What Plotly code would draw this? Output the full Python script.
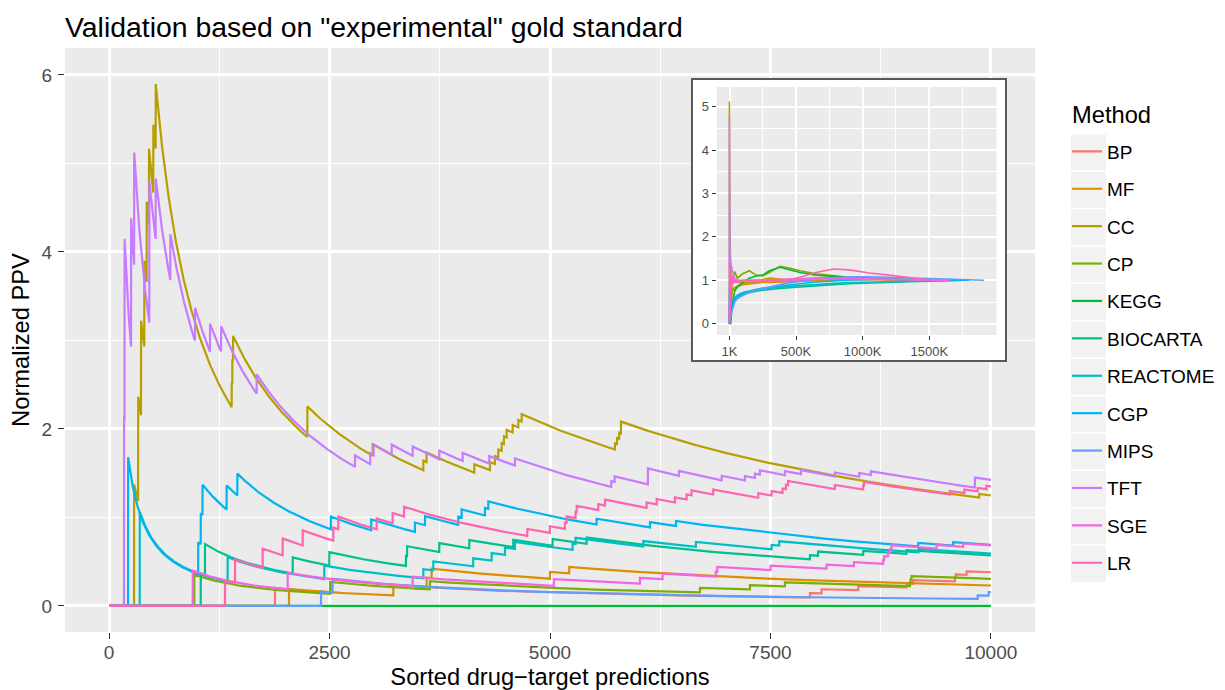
import numpy as np
import plotly.graph_objects as go

# ---------------- data ----------------
methods = ["BP", "MF", "CC", "CP", "KEGG", "BIOCARTA", "REACTOME", "CGP", "MIPS", "TFT", "SGE", "LR"]
colors = ["#F8766D", "#DE8C00", "#B79F00", "#7CAE00", "#00BA38", "#00C08B",
          "#00BFC4", "#00B4F0", "#619CFF", "#C77CFF", "#F564E3", "#FF64B0"]

# ranks per true hit over each method's full list (1 / overall precision)
ranks_per_hit = [380, 384, 390, 340, 380, 380, 370, 363, 389, 365, 380, 375]

# ranks (within the top 10000) of the gold-standard hits; a repeated rank = tied hits
hits_BP = [1882, 2532, 7948, 8080, 8496, 9044, 9119, 9592, 9600, 9725]
hits_MF = [2041, 3224, 3602, 3658, 5000, 5219]
hits_CC = [284, 330, 363, 400, 427, 453, 502, 529, 1391, 1398, 1406, 2249, 2249, 2990,
           3564, 3600, 4142, 4320, 4376, 4414, 4452, 4478, 4509, 4577, 4641, 4679,
           5737, 5760, 5785, 5805, 5805, 9868]
hits_CP = [967, 2506, 3639, 6701, 7268, 7664, 9082, 9090, 9100]
hits_KEGG = []
hits_BIOCARTA = [1040, 1088, 2083, 2498, 3367, 3380, 3745, 4085, 4584, 5030, 5416,
                 7948, 8040, 8552, 9044]
hits_REACTOME = [348, 1345, 2441, 3564, 3677, 4130, 4339, 4490, 4603, 5257, 5290,
                 6058, 6655, 7513, 7600, 9180]
hits_CGP = [216, 1011, 1040, 1060, 1333, 1455, 2515, 2973, 3469, 3583, 3960, 3998,
            4263, 4301, 5529, 6134, 6429, 9176, 9573]
hits_MIPS = [2404, 2532, 9850, 9975]
hits_TFT = [170, 176, 250, 285, 457, 457, 529, 695, 975, 1145, 1270, 1674, 2789, 2962,
            3000, 3205, 3443, 3745, 4010, 4312, 4603, 5695, 5733, 6111, 6111, 6111,
            6462, 6947, 7211, 7324, 7381, 7664, 7846, 8231, 8507, 8639, 9819, 9819, 9819]
hits_SGE = [949, 2026, 3443, 5045, 6020, 6277, 6880, 6897, 7502, 8137, 8447, 8779,
            8790, 8836, 8860, 8874, 9384, 9686]
hits_LR = [1315, 1429, 1742, 1969, 2196, 2543, 2600, 3035, 3216, 3345, 4743, 5000,
           5170, 5190, 5290, 5303, 5548, 5624, 6096, 6210, 6417, 6550, 6606, 6851,
           7362, 7513, 7638, 7676, 7700, 8231, 8552, 8560, 9535, 9700, 9850, 9950]

top_n = 10000
x_ticks = [0, 2500, 5000, 7500, 10000]
x_minor = [1250, 3750, 6250, 8750]
y_ticks = [0, 2, 4, 6]
y_minor = [1, 3, 5]

# inset: full ranked lists
inset_early_ranks = [1, 457, 1000, 2500, 5000, 10000]
inset_grid_k = [20, 40, 60, 100, 150, 200, 250, 300, 380, 450, 530, 650, 780, 900,
                1050, 1200, 1350, 1500]
inset_BP = [0.80, 0.84, 0.87, 0.92, 0.94, 0.96, 0.97, 0.97, 0.98, 0.98, 0.99, 1.00, 1.01, 1.02, 1.02, 1.01, 1.01, 1.00]
inset_MF = [0.75, 0.80, 0.85, 0.90, 0.92, 0.94, 0.95, 0.95, 0.96, 0.97, 0.99, 1.00, 1.02, 1.02, 1.02, 1.01, 1.01, 1.00]
inset_CC = [1.05, 0.98, 0.95, 0.95, 0.96, 0.97, 1.02, 1.05, 1.03, 1.02, 1.03, 1.05, 1.05, 1.04, 1.03, 1.02, 1.01, 1.00]
inset_CP = [0.90, 1.20, 1.05, 1.15, 1.22, 1.12, 1.10, 1.18, 1.32, 1.28, 1.22, 1.15, 1.10, 1.07, 1.05, 1.03, 1.02, 1.01]
inset_KEGG = [0.40, 0.75, 0.85, 0.95, 1.05, 1.10, 1.12, 1.22, 1.30, 1.25, 1.18, 1.12, 1.08, 1.06, 1.04, 1.02, 1.01, 1.00]
inset_BIOCARTA = [0.45, 0.55, 0.62, 0.68, 0.72, 0.75, 0.77, 0.79, 0.81, 0.83, 0.85, 0.88, 0.90, 0.92, 0.94, 0.96, 0.97, 0.98]
inset_REACTOME = [0.50, 0.60, 0.66, 0.72, 0.76, 0.79, 0.80, 0.82, 0.84, 0.86, 0.88, 0.91, 0.93, 0.95, 0.96, 0.97, 0.98, 0.99]
inset_CGP = [0.40, 0.55, 0.62, 0.70, 0.75, 0.79, 0.82, 0.84, 0.87, 0.89, 0.92, 0.96, 0.99, 1.01, 1.02, 1.03, 1.02, 1.01]
inset_MIPS = [0.30, 0.50, 0.58, 0.65, 0.72, 0.77, 0.81, 0.85, 0.90, 0.94, 0.98, 1.03, 1.06, 1.08, 1.08, 1.07, 1.06, 1.04]
inset_TFT = [1.25, 1.05, 1.00, 0.98, 0.99, 1.00, 1.00, 1.00, 1.00, 1.01, 1.02, 1.03, 1.04, 1.04, 1.03, 1.02, 1.01, 1.00]
inset_SGE = [1.10, 0.95, 0.97, 1.00, 1.00, 1.00, 1.01, 1.01, 1.02, 1.03, 1.04, 1.05, 1.05, 1.04, 1.03, 1.02, 1.01, 1.00]
inset_LR = [0.90, 1.00, 1.00, 1.00, 1.00, 1.00, 1.00, 1.00, 1.00, 1.02, 1.07, 1.18, 1.26, 1.24, 1.17, 1.12, 1.07, 1.02]
inset_end_k = [1650, 1650, 1650, 1650, 1650, 1760, 1760, 1800, 1910, 1650, 1650, 1515]
inset_end_value = 1.0
inset_x_ticks = [1000, 500000, 1000000, 1500000]
inset_x_labels = ["1K", "500K", "1000K", "1500K"]
inset_x_minor = [250500, 750000, 1250000, 1750000]
inset_y_ticks = [0, 1, 2, 3, 4, 5]
inset_y_minor = [0.5, 1.5, 2.5, 3.5, 4.5]

all_hits = [hits_BP, hits_MF, hits_CC, hits_CP, hits_KEGG, hits_BIOCARTA,
            hits_REACTOME, hits_CGP, hits_MIPS, hits_TFT, hits_SGE, hits_LR]
all_inset = [inset_BP, inset_MF, inset_CC, inset_CP, inset_KEGG, inset_BIOCARTA,
             inset_REACTOME, inset_CGP, inset_MIPS, inset_TFT, inset_SGE, inset_LR]


def normalized_ppv(hit_ranks, rph, ranks):
    h = np.sort(np.asarray(hit_ranks, dtype=float))
    ranks = np.asarray(ranks, dtype=float)
    cum = np.searchsorted(h, ranks, side="right")
    return cum * rph / ranks


# ---------------- geometry (page pixels; the page body has an 8px margin) ----------------
OFF = 8
W, H = 1225, 690 - OFF
PL, PR, PT, PB = 65, 1035, 48, 632          # plot panel in page pixels


def px(xp):
    return (xp - PL) / (PR - PL)


def py(yp):
    return (PB - yp) / (PB - PT)


FONT = "Liberation Sans, Arial, Helvetica, sans-serif"
GRID_BG = "#EBEBEB"

fig = go.Figure()

# main curves
for i, m in enumerate(methods):
    h = np.asarray(all_hits[i], dtype=int)
    ev = set(range(1, top_n + 1, 4)) | {top_n}
    for r in h:
        ev |= {int(r) - 1, int(r)}
    ev = np.array(sorted(r for r in ev if 1 <= r <= top_n))
    yv = normalized_ppv(h, ranks_per_hit[i], ev)
    fig.add_trace(go.Scatter(
        x=ev, y=yv, mode="lines", name=m, legendgroup=m,
        line=dict(color=colors[i], width=2.2),
        xaxis="x", yaxis="y"))

# blank subplot forming the white inset frame
fig.add_trace(go.Scatter(x=[], y=[], xaxis="x2", yaxis="y2", showlegend=False,
                         hoverinfo="skip"))

# inset curves
for i, m in enumerate(methods):
    early_y = normalized_ppv(all_hits[i], ranks_per_hit[i], inset_early_ranks)
    xs = list(inset_early_ranks) + [k * 1000 for k in inset_grid_k] + [inset_end_k[i] * 1000]
    ys = list(early_y) + list(all_inset[i]) + [inset_end_value]
    fig.add_trace(go.Scatter(
        x=xs, y=ys, mode="lines", name=m, legendgroup=m, showlegend=False,
        line=dict(color=colors[i], width=1.6),
        xaxis="x3", yaxis="y3"))

# panel backgrounds
shapes = [
    dict(type="rect", xref="paper", yref="paper", x0=0, x1=1, y0=0, y1=1,
         fillcolor=GRID_BG, line=dict(width=0), layer="below"),
    dict(type="rect", xref="x3", yref="y3", x0=-95000, x1=2005500, y0=-0.26, y1=5.46,
         fillcolor=GRID_BG, line=dict(width=0), layer="below"),
]
# legend key boxes
key_top0 = 134.5
key_step = 37.4
for i in range(len(methods)):
    t = key_top0 + i * key_step
    shapes.append(dict(type="rect", xref="paper", yref="paper",
                       x0=px(1071), x1=px(1106), y0=py(t + 35.8), y1=py(t),
                       fillcolor="#F2F2F2", line=dict(width=0), layer="below"))

tick_font = dict(family=FONT, size=19, color="#4D4D4D")
title_font = dict(family=FONT, size=23.7, color="black")

fig.update_layout(
    width=W, height=H,
    paper_bgcolor="white", plot_bgcolor="white",
    margin=dict(l=PL - OFF, r=W - (PR - OFF), t=PT - OFF, b=H - (PB - OFF), autoexpand=False),
    font=dict(family=FONT, color="black"),
    title=dict(text='Validation based on "experimental" gold standard',
               font=dict(family=FONT, size=28.4, color="black"),
               x=0, xref="paper", xanchor="left",
               y=1 - (27 - OFF) / H, yref="container", yanchor="middle"),
    showlegend=True,
    legend=dict(x=px(1067), y=py(132.5), xanchor="left", yanchor="top",
                xref="paper", yref="paper",
                bgcolor="rgba(0,0,0,0)", borderwidth=0,
                font=dict(family=FONT, size=19, color="black"),
                tracegroupgap=9.7, itemwidth=30, traceorder="grouped"),
    annotations=[dict(text="Method", xref="paper", yref="paper", x=px(1070), y=py(115),
                      xanchor="left", yanchor="middle", showarrow=False,
                      font=dict(family=FONT, size=23.7, color="black"))],
    xaxis=dict(domain=[0, 1], range=[-500, 10500], anchor="y",
               tickmode="array", tickvals=x_ticks, ticktext=[str(v) for v in x_ticks],
               showgrid=True, gridcolor="white", gridwidth=2.6, zeroline=False,
               minor=dict(tickmode="array", tickvals=x_minor, showgrid=True,
                          gridcolor="white", gridwidth=1.3, ticks=""),
               ticks="outside", ticklen=6, tickwidth=1.3, tickcolor="#333333",
               tickfont=tick_font, showline=False, ticklabelstandoff=-3,
               title=dict(text="Sorted drug\u2212target predictions", font=title_font, standoff=11),
               automargin=False),
    yaxis=dict(domain=[0, 1], range=[-0.295, 6.305], anchor="x",
               tickmode="array", tickvals=y_ticks, ticktext=[str(v) for v in y_ticks],
               showgrid=True, gridcolor="white", gridwidth=2.6, zeroline=False,
               minor=dict(tickmode="array", tickvals=y_minor, showgrid=True,
                          gridcolor="white", gridwidth=1.3, ticks=""),
               ticks="outside", ticklen=6, tickwidth=1.3, tickcolor="#333333",
               tickfont=tick_font, showline=False, ticklabelstandoff=2,
               title=dict(text="Normalized PPV", font=title_font, standoff=8),
               automargin=False),
    xaxis2=dict(domain=[px(693), px(1005)], range=[0, 1], anchor="y2",
                showgrid=False, zeroline=False, showticklabels=False, ticks="",
                showline=True, mirror=True, linecolor="#595959", linewidth=1.6,
                fixedrange=True),
    yaxis2=dict(domain=[py(360), py(80)], range=[0, 1], anchor="x2",
                showgrid=False, zeroline=False, showticklabels=False, ticks="",
                showline=True, mirror=True, linecolor="#595959", linewidth=1.6,
                fixedrange=True),
    xaxis3=dict(domain=[px(716.7), px(996.7)], range=[-95000, 2005500], anchor="y3",
                tickmode="array", tickvals=inset_x_ticks, ticktext=inset_x_labels,
                showgrid=True, gridcolor="white", gridwidth=1.6, zeroline=False,
                minor=dict(tickmode="array", tickvals=inset_x_minor, showgrid=True,
                           gridcolor="white", gridwidth=0.8, ticks=""),
                ticks="outside", ticklen=4, tickwidth=1, tickcolor="#333333",
                tickfont=dict(family=FONT, size=13, color="#4D4D4D"),
                automargin=False),
    yaxis3=dict(domain=[py(335), py(86.7)], range=[-0.26, 5.46], anchor="x3",
                tickmode="array", tickvals=inset_y_ticks,
                ticktext=[str(v) for v in inset_y_ticks],
                showgrid=True, gridcolor="white", gridwidth=1.6, zeroline=False,
                minor=dict(tickmode="array", tickvals=inset_y_minor, showgrid=True,
                           gridcolor="white", gridwidth=0.8, ticks=""),
                ticks="outside", ticklen=4, tickwidth=1, tickcolor="#333333",
                tickfont=dict(family=FONT, size=13, color="#4D4D4D"),
                automargin=False),
    shapes=shapes,
)

fig.write_html("out.html")
